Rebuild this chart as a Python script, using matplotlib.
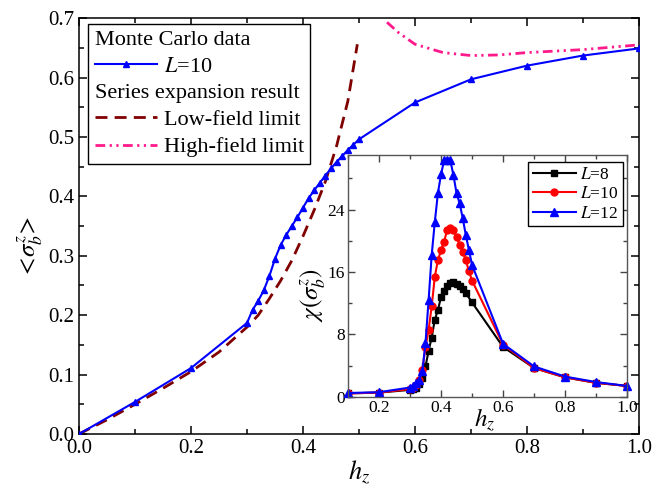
import matplotlib
matplotlib.use("Agg")
import matplotlib.pyplot as plt
from matplotlib.lines import Line2D
from matplotlib.ticker import MultipleLocator

plt.rcParams['font.family'] = 'serif'
plt.rcParams['font.serif'] = ['Liberation Serif', 'DejaVu Serif']
plt.rcParams['mathtext.fontset'] = 'stix'

# ---------------- main panel data ----------------
mc_h = [0.0, 0.1, 0.2, 0.3, 0.31, 0.32, 0.33, 0.34, 0.35, 0.36, 0.37, 0.38, 0.39,
        0.40, 0.41, 0.42, 0.43, 0.44, 0.45, 0.46, 0.47, 0.48, 0.49, 0.50,
        0.6, 0.7, 0.8, 0.9, 1.0]
mc_L10 = [0.0, 0.054, 0.111, 0.187, 0.209, 0.224, 0.242, 0.266, 0.295, 0.318, 0.335,
          0.350, 0.365, 0.381, 0.397, 0.410, 0.423, 0.435, 0.447, 0.458, 0.468,
          0.478, 0.487, 0.496, 0.558, 0.597, 0.620, 0.637, 0.649]

low_h = [0.0, 0.05, 0.1, 0.15, 0.2, 0.25, 0.3, 0.32, 0.34, 0.36, 0.38, 0.40,
         0.42, 0.44, 0.46, 0.48, 0.497]
low_val = [0.0, 0.024, 0.050, 0.077, 0.105, 0.138, 0.180, 0.200, 0.228, 0.258,
           0.292, 0.333, 0.377, 0.425, 0.485, 0.560, 0.656]

high_h = [0.55, 0.57, 0.6, 0.65, 0.7, 0.75, 0.8, 0.9, 1.0]
high_val = [0.693, 0.676, 0.656, 0.642, 0.637, 0.638, 0.642, 0.647, 0.655]

# ---------------- inset data ----------------
ins_h8 = [0.1, 0.2, 0.3, 0.31, 0.32, 0.33, 0.34, 0.35, 0.36, 0.37, 0.38, 0.39, 0.40,
          0.41, 0.42, 0.43, 0.44, 0.45, 0.46, 0.47, 0.48, 0.5, 0.6, 0.7, 0.8, 0.9, 1.0]
chi_L8 = [0.45, 0.55, 0.9, 1.0, 1.2, 1.6, 2.4, 3.9, 5.9, 7.6, 9.9, 11.1, 12.8,
          13.6, 14.2, 14.6, 14.7, 14.5, 14.2, 13.8, 13.3, 12.1, 6.4, 3.7, 2.5, 1.8, 1.4]

ins_h = [0.1, 0.2, 0.3, 0.31, 0.32, 0.33, 0.34, 0.35, 0.36, 0.37, 0.38, 0.39, 0.40,
         0.41, 0.42, 0.43, 0.44, 0.45, 0.46, 0.47, 0.48, 0.49, 0.50,
         0.6, 0.7, 0.8, 0.9, 1.0]
chi_L10 = [0.45, 0.55, 1.0, 1.2, 1.5, 2.2, 3.5, 6.4, 8.6, 11.6, 15.4, 17.5, 18.8,
           19.9, 21.4, 21.6, 21.4, 20.5, 19.5, 18.6, 17.5, 16.1, 14.9,
           6.7, 3.7, 2.5, 1.8, 1.4]
chi_L12 = [0.5, 0.6, 1.2, 1.4, 1.8, 2.2, 3.3, 6.9, 12.4, 18.2, 22.4, 26.1, 28.5,
           30.3, 30.4, 30.3, 28.4, 26.1, 24.8, 22.9, 20.7, 18.8, 16.9,
           6.8, 3.9, 2.6, 1.9, 1.4]

fig = plt.figure(figsize=(6.54, 4.87), dpi=100)
ax = fig.add_axes([0.1208, 0.1088, 0.8563, 0.854])

blue = '#0000ff'
maroon = '#800000'
pink = '#ff1a8c'
SERIF = 'Liberation Serif'

l_mc, = ax.plot(mc_h, mc_L10, color=blue, lw=1.5, marker='^', ms=5, zorder=3)
l_low, = ax.plot(low_h, low_val, color=maroon, lw=2, dashes=(4.3, 2.6), zorder=2)
l_high, = ax.plot(high_h, high_val, color=pink, lw=2,
                  dashes=(3.5, 1.6, 0.8, 1.6, 0.8, 1.6), zorder=2)

ax.set_xlim(0, 1.0)
ax.set_ylim(0, 0.7)
ax.xaxis.set_major_locator(MultipleLocator(0.2))
ax.xaxis.set_minor_locator(MultipleLocator(0.1))
ax.yaxis.set_major_locator(MultipleLocator(0.1))
ax.yaxis.set_minor_locator(MultipleLocator(0.05))
ax.xaxis.set_major_formatter(plt.FuncFormatter(lambda v, p: f'{v:.1f}'))
ax.yaxis.set_major_formatter(plt.FuncFormatter(lambda v, p: f'{v:.1f}'))
ax.tick_params(which='both', direction='in', top=True, right=True, labelsize=15, width=1.1)
ax.tick_params(which='major', length=6)
ax.tick_params(which='minor', length=3.5)
for s in ax.spines.values():
    s.set_linewidth(1.1)

ax.set_xlabel(r'$h_z$', fontsize=19, labelpad=0)
ax.set_ylabel(r'$<\!\sigma_b^z\!>$', fontsize=18, labelpad=0)
ax.yaxis.set_label_coords(-0.06, 0.45)

blank = Line2D([], [], alpha=0)
handles = [blank, l_mc, blank, l_low, l_high]
labels = ['Monte Carlo data', r'$L$=10', 'Series expansion result',
          'Low-field limit', 'High-field limit']
leg = ax.legend(handles, labels, loc='upper left', bbox_to_anchor=(0.016, 0.985),
                fontsize=16, frameon=True, fancybox=False, edgecolor='black',
                framealpha=1, handlelength=2.8, handletextpad=0.3,
                labelspacing=0.3, borderpad=0.3, borderaxespad=0)
leg.get_frame().set_linewidth(1.0)
col = leg._legend_handle_box.get_children()[0]
rows = col.get_children()
for i in (0, 2):
    hp = rows[i]
    hp._children = [hp._children[1]]

# ---------------- inset ----------------
axi = fig.add_axes([0.532, 0.185, 0.427, 0.497])
axi.plot(ins_h8, chi_L8, color='black', lw=1.5, marker='s', ms=4.5, label=r'$L$=8')
axi.plot(ins_h, chi_L10, color='red', lw=1.5, marker='o', ms=5, label=r'$L$=10')
axi.plot(ins_h, chi_L12, color=blue, lw=1.5, marker='^', ms=5.5, label=r'$L$=12',
         clip_on=False)
axi.set_xlim(0.1, 1.0)
axi.set_ylim(0, 31)
axi.xaxis.set_major_locator(MultipleLocator(0.2))
axi.xaxis.set_minor_locator(MultipleLocator(0.1))
axi.yaxis.set_major_locator(MultipleLocator(8))
axi.yaxis.set_minor_locator(MultipleLocator(4))
axi.xaxis.set_major_formatter(plt.FuncFormatter(lambda v, p: f'{v:.1f}'))
axi.tick_params(which='both', direction='in', top=True, right=True, labelsize=12.5,
                width=1.0, pad=2, color='#444444')
axi.tick_params(which='major', length=5)
axi.tick_params(which='minor', length=3)
for s in axi.spines.values():
    s.set_linewidth(1.0)
    s.set_color('#555555')
axi.set_xlabel(r'$h_z$', fontsize=18)
axi.xaxis.set_label_coords(0.49, -0.04)
axi.set_ylabel(r'$\chi(\sigma_b^z)$', fontsize=18)
axi.yaxis.set_label_coords(-0.07, 0.42)
leg2 = axi.legend(loc='upper right', bbox_to_anchor=(0.985, 0.97), fontsize=12.5,
                  frameon=True, fancybox=False, edgecolor='black', framealpha=1,
                  handlelength=2.5, handletextpad=0.25, labelspacing=0.2,
                  borderpad=0.25, borderaxespad=0)
leg2.get_frame().set_linewidth(1.0)

for a in (ax, axi):
    for lbl in a.get_xticklabels() + a.get_yticklabels():
        lbl.set_fontfamily(SERIF)

fig.savefig('out.png', dpi=100)
